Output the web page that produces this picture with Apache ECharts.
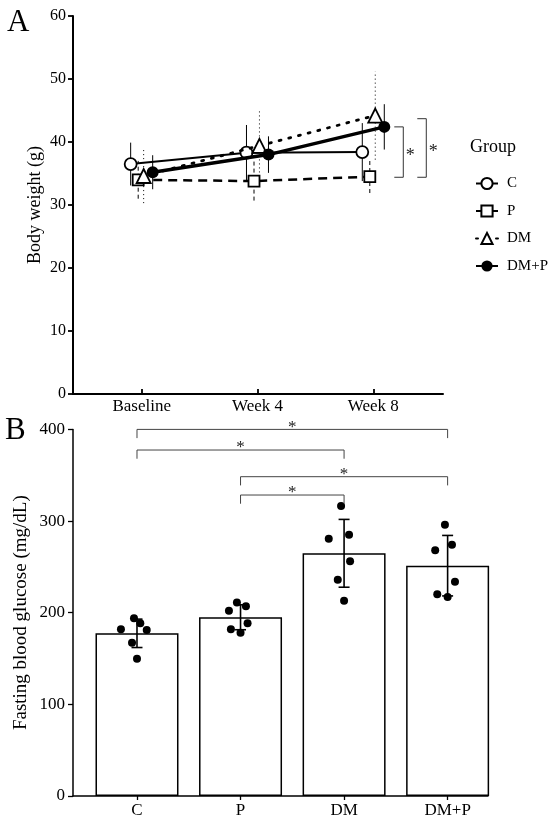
<!DOCTYPE html>
<html><head>
<meta charset="UTF-8">
<title>Body weight and fasting blood glucose</title>
<style>
  html, body { margin: 0; padding: 0; background: #fff; }
  #chart { width: 550px; height: 823px; }
</style>
</head>
<body>
<div id="chart"></div>
<script src="https://cdn.jsdelivr.net/npm/echarts@6/dist/echarts.min.js"></script>
<script>
  // ---- panel A: body weight (g), mean and SD per group ----
  const weekLabels = ['Baseline', 'Week 4', 'Week 8'];
  const groupNames = ['C', 'P', 'DM', 'DM+P'];
  const weightC = [36.5, 38.3, 38.4];
  const weightP = [34.0, 33.8, 34.5];
  const weightDM = [34.6, 39.4, 44.2];
  const weightDMP = [35.2, 38.0, 42.4];
  const sdC = [3.4, 4.4, 4.6];
  const sdP = [3.0, 3.1, 2.6];
  const sdDM = [4.3, 5.5, 7.0];
  const sdDMP = [2.7, 2.9, 3.6];
  // significance at Week 8: [low, high] ends of each bracket
  const sigWeek8 = [[34.4, 42.4], [34.4, 43.7]];

  // ---- panel B: fasting blood glucose (mg/dL) ----
  const glucoseCats = ['C', 'P', 'DM', 'DM+P'];
  const glucoseMean = [177.5, 195.0, 264.8, 251.3];
  const glucoseSD = [15.5, 13.6, 37.0, 33.0];
  const dotsC = [181.9, 193.9, 188.4, 181.1, 167.3, 149.8];
  const dotsP = [202.2, 211.0, 207.0, 188.4, 181.9, 178.2];
  const dotsDM = [316.4, 280.8, 285.1, 256.1, 236.0, 213.1];
  const dotsDMP = [296.0, 268.1, 274.2, 233.8, 220.1, 217.1];
  // pairs compared and the height of each bracket
  const sigPairs = [[0, 3], [0, 2], [1, 3], [1, 2]];
  const sigHeights = [400, 377.5, 348.4, 328.4];

  const FONT = '"Liberation Serif", "DejaVu Serif", serif';

  // horizontal spread of the groups at each time point and of the dots
  const dodge = [-0.095, -0.03, 0.017, 0.095];
  const jitter = [
    [-0.155, -0.029, 0.032, 0.094, -0.048, 0],
    [-0.112, -0.035, 0.052, 0.068, -0.093, 0],
    [-0.029, -0.148, 0.048, 0.058, -0.061, 0],
    [-0.026, -0.12, 0.042, 0.071, -0.1, 0]
  ];

  const weights = [weightC, weightP, weightDM, weightDMP];
  const sds = [sdC, sdP, sdDM, sdDMP];
  const symbols = ['circle', 'rect', 'triangle', 'circle'];
  const symbolSizes = [12, 11, 14, 12];
  const lineStyles = [
    { width: 2, type: 'solid' },
    { width: 2.5, type: [9, 6] },
    { width: 2.8, type: [2, 8], cap: 'round' },
    { width: 3.5, type: 'solid' }
  ];
  const barDash = ['solid', [4, 3], [1, 3], 'solid'];

  const series = [];

  // error bars in A (no caps)
  groupNames.forEach((g, k) => {
    series.push({
      type: 'custom',
      name: g + ' SD',
      xAxisIndex: 0, yAxisIndex: 0,
      silent: true, z: 1,
      encode: { x: 0, y: [1, 2] },
      data: weights[k].map((m, i) => [i + dodge[k], m - sds[k][i], m + sds[k][i]]),
      renderItem: function (params, api) {
        const lo = api.coord([api.value(0), api.value(1)]);
        const hi = api.coord([api.value(0), api.value(2)]);
        return {
          type: 'line',
          shape: { x1: lo[0], y1: lo[1], x2: hi[0], y2: hi[1] },
          style: { stroke: '#000', lineWidth: 1, lineDash: barDash[k] === 'solid' ? null : barDash[k] }
        };
      }
    });
  });

  // group lines in A
  groupNames.forEach((g, k) => {
    const filled = k === 3;
    series.push({
      type: 'line',
      name: g,
      xAxisIndex: 0, yAxisIndex: 0,
      z: 3 + k,
      data: weights[k].map((m, i) => [i + dodge[k], m]),
      symbol: symbols[k],
      symbolSize: symbolSizes[k],
      showAllSymbol: true,
      lineStyle: Object.assign({ color: '#000' }, lineStyles[k]),
      itemStyle: {
        color: filled ? '#000' : '#fff',
        borderColor: '#000',
        borderWidth: filled ? 0 : 1.8
      },
      emphasis: { disabled: true }
    });
  });

  // significance brackets in A
  series.push({
    type: 'custom',
    name: 'sigA',
    xAxisIndex: 0, yAxisIndex: 0,
    silent: true, z: 2,
    encode: { x: 0, y: [1, 2] },
    data: sigWeek8.map(s => [2, s[0], s[1]]),
    renderItem: function (params, api) {
      const lo = api.coord([api.value(0), api.value(1)]);
      const hi = api.coord([api.value(0), api.value(2)]);
      const left = lo[0] + 21 + 23 * params.dataIndex;
      const right = left + 9;
      return {
        type: 'group',
        children: [
          {
            type: 'polyline',
            shape: { points: [[left, hi[1]], [right, hi[1]], [right, lo[1]], [left, lo[1]]] },
            style: { stroke: '#333', lineWidth: 1, fill: null }
          },
          {
            type: 'text',
            style: {
              x: right + 7, y: (lo[1] + hi[1]) / 2 + 4,
              text: '*', fill: '#222', font: '18px ' + FONT,
              align: 'center', verticalAlign: 'middle'
            }
          }
        ]
      };
    }
  });

  // bars in B
  series.push({
    type: 'bar',
    name: 'glucose',
    xAxisIndex: 1, yAxisIndex: 1,
    barWidth: 83,
    data: glucoseMean.map((v, i) => [i, v]),
    itemStyle: { color: '#fff', borderColor: '#000', borderWidth: 1.5 },
    silent: true, z: 1
  });

  // SD bars with caps in B
  series.push({
    type: 'custom',
    name: 'glucose SD',
    xAxisIndex: 1, yAxisIndex: 1,
    silent: true, z: 3,
    encode: { x: 0, y: [1, 2] },
    data: glucoseMean.map((m, i) => [i, m - glucoseSD[i], m + glucoseSD[i]]),
    renderItem: function (params, api) {
      const lo = api.coord([api.value(0), api.value(1)]);
      const hi = api.coord([api.value(0), api.value(2)]);
      const st = { stroke: '#000', lineWidth: 1.6 };
      return {
        type: 'group',
        children: [
          { type: 'line', shape: { x1: lo[0], y1: lo[1], x2: hi[0], y2: hi[1] }, style: st },
          { type: 'line', shape: { x1: lo[0] - 5.5, y1: lo[1], x2: lo[0] + 5.5, y2: lo[1] }, style: st },
          { type: 'line', shape: { x1: hi[0] - 5.5, y1: hi[1], x2: hi[0] + 5.5, y2: hi[1] }, style: st }
        ]
      };
    }
  });

  // individual animals in B
  const dotData = [];
  [dotsC, dotsP, dotsDM, dotsDMP].forEach((arr, i) => {
    arr.forEach((v, j) => dotData.push([i + jitter[i][j], v]));
  });
  series.push({
    type: 'scatter',
    name: 'animals',
    xAxisIndex: 1, yAxisIndex: 1,
    symbol: 'circle', symbolSize: 8,
    itemStyle: { color: '#000', opacity: 1 },
    data: dotData,
    silent: true, z: 2
  });

  // significance brackets in B
  series.push({
    type: 'custom',
    name: 'sigB',
    xAxisIndex: 1, yAxisIndex: 1,
    silent: true, z: 4,
    data: sigPairs.map((p, i) => [p[0], p[1], sigHeights[i]]),
    renderItem: function (params, api) {
      const a = api.coord([api.value(0), api.value(2)]);
      const b = api.coord([api.value(1), api.value(2)]);
      const legA = api.coord([api.value(0), api.value(2) - 9.5]);
      return {
        type: 'group',
        children: [
          {
            type: 'polyline',
            shape: { points: [[a[0], legA[1]], [a[0], a[1]], [b[0], b[1]], [b[0], legA[1]]] },
            style: { stroke: '#444', lineWidth: 1, fill: null }
          },
          {
            type: 'text',
            style: {
              x: (a[0] + b[0]) / 2, y: a[1] - 2,
              text: '*', fill: '#222', font: '17px ' + FONT,
              align: 'center', verticalAlign: 'middle'
            }
          }
        ]
      };
    }
  });

  const chart = echarts.init(document.getElementById('chart'), null, { renderer: 'canvas' });
  chart.setOption({
    animation: false,
    backgroundColor: '#fff',
    textStyle: { fontFamily: FONT, color: '#000' },
    graphic: [
      { type: 'text', left: 7, top: 7, style: { text: 'A', font: '31px ' + FONT, fill: '#000' } },
      { type: 'text', left: 5, top: 415, style: { text: 'B', font: '31px ' + FONT, fill: '#000' } },
      { type: 'text', left: 470, top: 138, style: { text: 'Group', font: '18px ' + FONT, fill: '#000' } }
    ],
    legend: {
      data: groupNames,
      orient: 'vertical',
      left: 470, top: 171,
      itemWidth: 22, itemHeight: 14, itemGap: 12.5,
      selectedMode: false,
      textStyle: { fontFamily: FONT, fontSize: 15, color: '#000', padding: [0, 0, 0, 4] }
    },
    grid: [
      { left: 73, top: 16, width: 370, height: 378 },
      { left: 73, top: 429.4, width: 415, height: 366.6 }
    ],
    xAxis: [
      {
        type: 'value', gridIndex: 0,
        min: -0.593, max: 2.602,
        axisLine: { onZero: false, lineStyle: { color: '#000', width: 2 } },
        axisTick: { inside: true, length: 5, customValues: [0, 1, 2], lineStyle: { color: '#000', width: 1.8 } },
        axisLabel: {
          customValues: [0, 1, 2], margin: 4,
          formatter: v => weekLabels[Math.round(v)],
          fontFamily: FONT, fontSize: 17, color: '#000'
        },
        splitLine: { show: false }
      },
      {
        type: 'value', gridIndex: 1,
        min: -0.618, max: 3.39,
        axisLine: { onZero: false, lineStyle: { color: '#000', width: 1.5 } },
        axisTick: { length: 4, customValues: [0, 1, 2, 3], lineStyle: { color: '#000', width: 1.3 } },
        axisLabel: {
          customValues: [0, 1, 2, 3], margin: 6,
          formatter: v => glucoseCats[Math.round(v)],
          fontFamily: FONT, fontSize: 17, color: '#000'
        },
        splitLine: { show: false }
      }
    ],
    yAxis: [
      {
        type: 'value', gridIndex: 0,
        min: 0, max: 60, interval: 10,
        name: 'Body weight (g)', nameLocation: 'middle', nameGap: 29,
        nameMoveOverlap: false,
        nameTextStyle: { fontFamily: FONT, fontSize: 18, color: '#000' },
        axisLine: { show: true, onZero: false, lineStyle: { color: '#000', width: 2 } },
        axisTick: { show: true, length: 5, lineStyle: { color: '#000', width: 1.8 } },
        axisLabel: { margin: 7, fontFamily: FONT, fontSize: 16, color: '#000' },
        splitLine: { show: false }
      },
      {
        type: 'value', gridIndex: 1,
        min: 0, max: 400, interval: 100,
        name: 'Fasting blood glucose (mg/dL)', nameLocation: 'middle', nameGap: 42,
        nameMoveOverlap: false,
        nameTextStyle: { fontFamily: FONT, fontSize: 19, color: '#000' },
        axisLine: { show: true, onZero: false, lineStyle: { color: '#000', width: 1.5 } },
        axisTick: { show: true, length: 5, lineStyle: { color: '#000', width: 1.3 } },
        axisLabel: { margin: 8, fontFamily: FONT, fontSize: 17, color: '#000' },
        splitLine: { show: false }
      }
    ],
    series: series
  });
</script>
</body></html>
